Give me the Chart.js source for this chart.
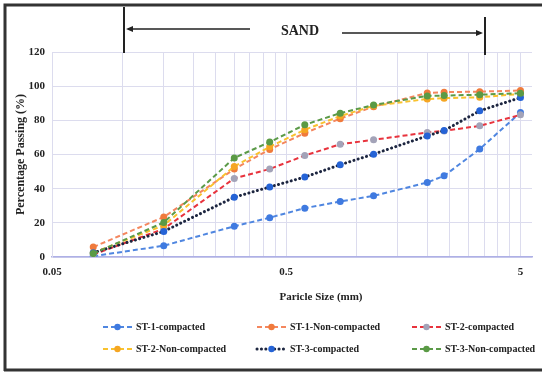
<!DOCTYPE html>
<html>
<head>
<meta charset="utf-8">
<script src="https://cdn.jsdelivr.net/npm/chart.js@4.4.1/dist/chart.umd.min.js"></script>
<style>
  html, body { margin: 0; padding: 0; background: #fff; }
  #wrap { position: relative; width: 542px; height: 373px; }
</style>
</head>
<body>
<div id="wrap"><canvas id="myChart" width="542" height="373"></canvas></div>
<script>
// particle sizes (mm) and percentage passing for each sample
var sieveSizes = [0.075, 0.15, 0.3, 0.425, 0.6, 0.85, 1.18, 2, 2.36, 3.35, 5];

var st1Compacted    = [0.5, 6.6, 18, 23, 28.6, 32.5, 35.8, 43.6, 47.5, 63.2, 84.6];
var st1NonCompacted = [5.8, 23.4, 51.5, 63, 72.5, 81, 88, 96, 96.5, 96.8, 97.5];
var st2Compacted    = [1.5, 16.5, 46, 51.5, 59.4, 66, 68.6, 72.9, 73.8, 76.8, 83.2];
var st2NonCompacted = [2.5, 18.5, 53, 64.5, 74.5, 82.5, 88.5, 92.5, 93, 93.5, 95.5];
var st3Compacted    = [2.5, 15, 35, 41, 46.8, 54, 60.2, 70.9, 74, 85.6, 93.3];
var st3NonCompacted = [2, 20.2, 58, 67.3, 77.4, 84.2, 89, 94.3, 94.5, 95, 95.9];

var seriesNames = ["ST-1-compacted", "ST-1-Non-compacted", "ST-2-compacted",
                   "ST-2-Non-compacted", "ST-3-compacted", "ST-3-Non-compacted"];
var seriesValues = [st1Compacted, st1NonCompacted, st2Compacted,
                    st2NonCompacted, st3Compacted, st3NonCompacted];

var xTickLabels = [0.05, 0.5, 5];
var yTickLabels = [0, 20, 40, 60, 80, 100, 120];

var lineColors   = ["#4f86e0", "#f4875f", "#e8333d", "#f9c22e", "#1d2640", "#5b9a48"];
var markerColors = ["#3f7ae0", "#f07a3c", "#a3a3b8", "#f5a623", "#2563d6", "#5a9a45"];
var dashes = [[5, 3], [5, 3], [5, 3], [5, 3], [0.1, 4.3], [5, 3]];

var serif = "'Liberation Serif', 'Times New Roman', serif";

var datasets = seriesNames.map(function (name, i) {
  return {
    label: name,
    data: sieveSizes.map(function (s, j) { return { x: s, y: seriesValues[i][j] }; }),
    borderColor: lineColors[i],
    borderWidth: i === 4 ? 3 : 2,
    borderDash: dashes[i],
    borderCapStyle: i === 4 ? "round" : "butt",
    pointRadius: 3.5,
    pointBorderWidth: 0,
    pointBackgroundColor: markerColors[i],
    showLine: true,
    fill: false,
    tension: 0,
    order: seriesNames.length - i
  };
});

// minor gridlines like a log axis in a spreadsheet: k*0.05 and k*0.5
function logTicks() {
  var t = [];
  for (var k = 1; k <= 9; k++) t.push({ value: +(0.05 * k).toFixed(3) });
  for (var k2 = 1; k2 <= 9; k2++) t.push({ value: +(0.5 * k2).toFixed(3) });
  t.push({ value: 5 });
  return t;
}

var decor = {
  id: "decor",
  afterDraw: function (chart) {
    var ctx = chart.ctx;
    ctx.save();

    // frame around the figure
    ctx.strokeStyle = "#333";
    ctx.lineWidth = 3;
    ctx.beginPath();
    ctx.moveTo(5, 371); ctx.lineTo(5, 5); ctx.lineTo(542, 5);
    ctx.stroke();
    ctx.beginPath();
    ctx.moveTo(4, 370); ctx.lineTo(542, 370);
    ctx.stroke();

    // SAND range marker
    ctx.strokeStyle = "#222";
    ctx.fillStyle = "#222";
    ctx.lineWidth = 2;
    ctx.beginPath();
    ctx.moveTo(124, 7); ctx.lineTo(124, 53);
    ctx.moveTo(485, 17); ctx.lineTo(485, 55);
    ctx.stroke();
    ctx.lineWidth = 1.5;
    ctx.beginPath();
    ctx.moveTo(250, 29); ctx.lineTo(128, 29);
    ctx.moveTo(342, 33); ctx.lineTo(481, 33);
    ctx.stroke();
    ctx.beginPath();
    ctx.moveTo(126, 29); ctx.lineTo(133, 26); ctx.lineTo(133, 32); ctx.closePath();
    ctx.moveTo(483, 33); ctx.lineTo(476, 30); ctx.lineTo(476, 36); ctx.closePath();
    ctx.fill();
    ctx.font = "bold 14px " + serif;
    ctx.textAlign = "center";
    ctx.textBaseline = "middle";
    ctx.fillText("SAND", 300, 31);

    // x axis title
    ctx.font = "bold 11px " + serif;
    ctx.fillStyle = "#222";
    ctx.fillText("Paricle Size (mm)", 321, 297);

    // legend
    var colX = [103, 257, 412];
    var rowY = [327, 349];
    ctx.font = "bold 10px " + serif;
    ctx.textAlign = "left";
    chart.data.datasets.forEach(function (ds, i) {
      var x = colX[i % 3], y = rowY[Math.floor(i / 3)];
      ctx.strokeStyle = ds.borderColor;
      ctx.lineWidth = ds.borderWidth;
      ctx.lineCap = ds.borderCapStyle;
      ctx.setLineDash(ds.borderDash);
      ctx.beginPath();
      ctx.moveTo(x, y); ctx.lineTo(x + 29, y);
      ctx.stroke();
      ctx.setLineDash([]);
      ctx.fillStyle = ds.pointBackgroundColor;
      ctx.beginPath();
      ctx.arc(x + 14.5, y, 3.2, 0, Math.PI * 2);
      ctx.fill();
      ctx.fillStyle = "#222";
      ctx.fillText(ds.label, x + 33, y);
    });
    ctx.restore();
  }
};

new Chart(document.getElementById("myChart"), {
  type: "scatter",
  data: { datasets: datasets },
  options: {
    responsive: false,
    animation: false,
    layout: { padding: { left: 14, top: 52, right: 10, bottom: 88 } },
    plugins: { legend: { display: false }, tooltip: { enabled: false } },
    scales: {
      x: {
        type: "logarithmic",
        min: 0.05,
        max: 5.6,
        afterBuildTicks: function (scale) { scale.ticks = logTicks(); },
        afterFit: function (scale) { scale.height = 28; },
        grid: { color: "#dcdcee", lineWidth: 1, drawTicks: false },
        border: { color: "#aeb0e6", width: 1.5 },
        ticks: {
          autoSkip: false,
          maxRotation: 0,
          padding: 9,
          color: "#222",
          font: { family: serif, size: 11, weight: "bold" },
          callback: function (v) {
            var hit = xTickLabels.filter(function (t) { return Math.abs(t - v) < 1e-9; });
            return hit.length ? String(hit[0]) : "";
          }
        }
      },
      y: {
        min: yTickLabels[0],
        max: yTickLabels[yTickLabels.length - 1],
        afterFit: function (scale) { scale.width = 38; },
        grid: { color: "#dcdcee", lineWidth: 1, drawTicks: false },
        border: { color: "#dcdcee" },
        ticks: {
          stepSize: 20,
          padding: 7,
          color: "#222",
          font: { family: serif, size: 11, weight: "bold" }
        },
        title: {
          display: true,
          text: "Percentage Passing (%)",
          color: "#222",
          padding: { top: 0, bottom: 2 },
          font: { family: serif, size: 12, weight: "bold" }
        }
      }
    }
  },
  plugins: [decor]
});
</script>
</body>
</html>
